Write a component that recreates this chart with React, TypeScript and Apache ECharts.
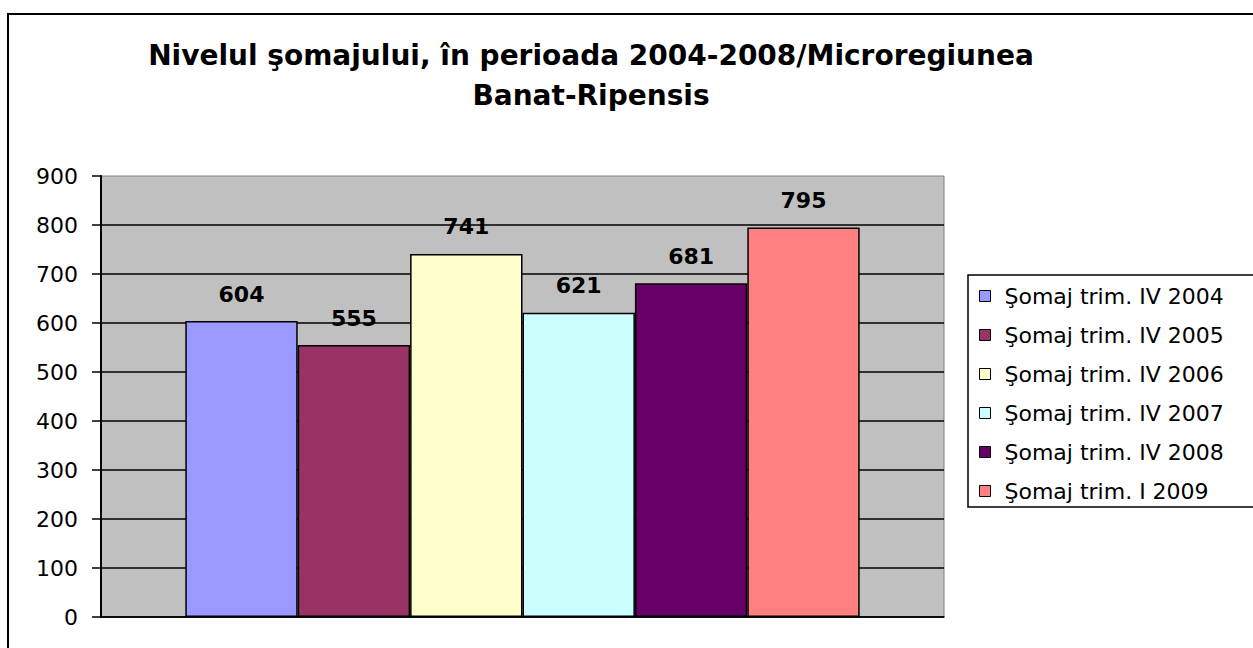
import React, { useEffect, useRef } from "react";
import * as echarts from "echarts";

const categories = [""];
const seriesNames = [
  "Şomaj trim. IV 2004",
  "Şomaj trim. IV 2005",
  "Şomaj trim. IV 2006",
  "Şomaj trim. IV 2007",
  "Şomaj trim. IV 2008",
  "Şomaj trim. I 2009",
];
const seriesValues = [604, 555, 741, 621, 681, 795];
const seriesColors = ["#9999FF", "#993366", "#FFFFCC", "#CCFFFF", "#660066", "#FF8080"];
const titleText = "Nivelul şomajului, în perioada 2004-2008/Microregiunea\nBanat-Ripensis";

const FONT = "'DejaVu Sans', 'Liberation Sans', Arial, sans-serif";

export default function App() {
  const ref = useRef<HTMLDivElement>(null);
  useEffect(() => {
    if (!ref.current) return;
    const chart = echarts.init(ref.current, undefined, { renderer: "svg" });
    chart.setOption({
      animation: false,
      backgroundColor: "#ffffff",
      title: {
        text: titleText,
        left: 591,
        top: 35,
        padding: 0,
        textAlign: "center",
        textStyle: {
          fontFamily: FONT,
          fontSize: 28,
          fontWeight: "bold",
          lineHeight: 40,
          color: "#000",
        },
      },
      graphic: [
        {
          type: "rect",
          shape: { x: 8, y: 14, width: 1400, height: 800 },
          style: { fill: "none", stroke: "#000", lineWidth: 2 },
          silent: true,
          z: 100,
        },
      ],
      legend: {
        orient: "vertical",
        left: 968,
        top: 275,
        padding: [10, 40, 5, 11],
        borderColor: "#000",
        borderWidth: 1.5,
        itemWidth: 11,
        itemHeight: 11,
        itemGap: 17,
        icon: "rect",
        itemStyle: { borderColor: "#000", borderWidth: 1 },
        textStyle: {
          fontFamily: FONT,
          fontSize: 22,
          lineHeight: 22,
          color: "#000",
          padding: [0, 0, 0, 9],
        },
        data: seriesNames,
      },
      grid: {
        left: 101,
        top: 176,
        width: 843,
        height: 441,
        show: true,
        backgroundColor: "#C0C0C0",
        borderColor: "#808080",
        borderWidth: 1,
      },
      xAxis: {
        type: "category",
        data: categories,
        axisLine: { show: true, lineStyle: { color: "#000", width: 1.5 } },
        axisTick: { show: false },
        axisLabel: { show: false },
        splitLine: { show: false },
      },
      yAxis: {
        type: "value",
        min: 0,
        max: 900,
        interval: 100,
        axisLine: { show: true, lineStyle: { color: "#000", width: 2 } },
        axisTick: { show: true, inside: false, length: 9, lineStyle: { color: "#000", width: 1.5 } },
        axisLabel: {
          margin: 23,
          fontFamily: FONT,
          fontSize: 22,
          color: "#000",
        },
        splitLine: { show: true, showMaxLine: false, lineStyle: { color: "#000", width: 1.5 } },
      },
      series: seriesNames.map((name, i) => ({
        name,
        type: "bar",
        data: [seriesValues[i]],
        barGap: "0%",
        barCategoryGap: "20%",
        itemStyle: { color: seriesColors[i], borderColor: "#000", borderWidth: 1.5 },
        label: {
          show: true,
          position: "top",
          distance: 16,
          fontFamily: FONT,
          fontSize: 22,
          fontWeight: "bold",
          color: "#000",
        },
      })),
    });
    return () => chart.dispose();
  }, []);
  return (
    <div
      ref={ref}
      style={{ position: "absolute", left: 0, top: 0, width: 1253, height: 648 }}
    />
  );
}
